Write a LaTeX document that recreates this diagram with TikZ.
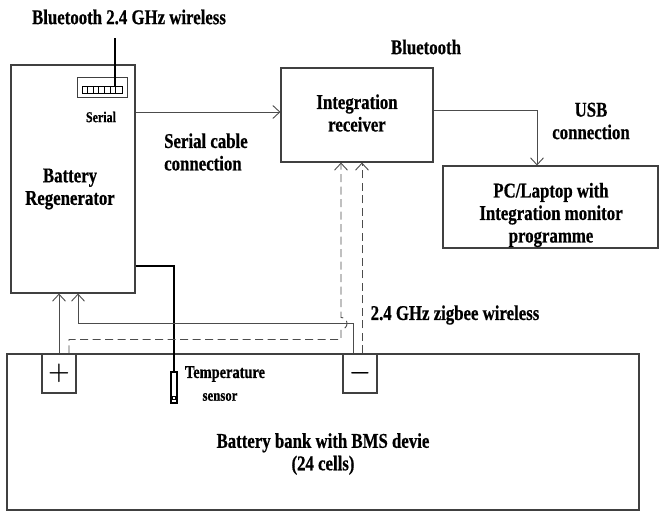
\documentclass[tikz,border=0pt]{standalone}
\usepackage{fontspec}
\setmainfont{Liberation Serif}[FakeStretch=0.8, BoldFeatures={FakeBold=0.6}]
\usetikzlibrary{arrows.meta,positioning}

\begin{document}
\begin{tikzpicture}[x=1pt, y=-1pt, >={Straight Barb[length=7pt,width=13pt]},
  box/.style={draw=black!75, line width=1.1pt, inner sep=0pt},
  lbl/.style={font=\fontsize{21}{22.5}\selectfont\bfseries, align=center, inner sep=0pt},
  small/.style={font=\fontsize{15}{16}\selectfont\bfseries, inner sep=0pt},
  wire/.style={draw=black!70, line width=0.9pt},
  thickwire/.style={draw=black, line width=2.2pt},
  radio/.style={wire, dash pattern=on 8pt off 4.5pt}
]
\useasboundingbox (0,0) rectangle (661,512);

% blocks
\node[box, minimum width=124pt, minimum height=228pt] (regen) at (73,179) {};
\node[box, minimum width=152pt, minimum height=94pt] (recv) at (357,115) {};
\node[box, minimum width=215pt, minimum height=82pt] (pc) at (550.5,207) {};
\node[box, minimum width=632pt, minimum height=156pt] (bank) at (323,432) {};
\node[box, minimum width=34pt, minimum height=39pt] (plus) at (59,373.5) {};
\node[box, minimum width=34pt, minimum height=39pt] (minus) at (360,373.5) {};

% serial port with its antenna
\node[box, line width=0.9pt, minimum width=50pt, minimum height=20pt] (port) at (102,87) {};
\node[draw, line width=0.8pt, minimum width=40pt, minimum height=7pt, inner sep=0pt] (pins) at (102,89.5) {};
\foreach \k in {1,...,6}
  \draw[line width=0.7pt] ([xshift=\k*5.7pt]pins.south west) -- ([xshift=\k*5.7pt]pins.north west);
\coordinate (ant) at (115,38);
\draw[thickwire] (ant) -- (ant |- pins.north);

% temperature sensor
\node[draw, line width=1.6pt, minimum width=6pt, minimum height=31pt, inner sep=0pt] (sensor) at (174,387.5) {};
\node[draw, line width=0.8pt, minimum size=3pt, inner sep=0pt] (probe) at (174,398) {};

% texts
\node[lbl] (regentext) at (70,189) {Battery\\Regenerator};
\node[lbl] (recvtext) at (357,113) {Integration\\receiver};
\node[lbl] (pctext) at (551,215) {PC/Laptop with\\Integration monitor\\programme};
\node[lbl] (banktext) at (323,454) {Battery bank with BMS devie\\(24 cells)};
\node[lbl] (btwireless) at (129,17) {Bluetooth 2.4 GHz wireless};
\node[lbl] (bt) at (426,47) {Bluetooth};
\node[lbl, align=left, anchor=west] (serialcable) at (164,152) {Serial cable\\connection};
\node[lbl] (usb) at (591,121) {USB\\connection};
\node[lbl] (zigbee) at (455,315) {2.4 GHz zigbee wireless};
\node[small] (serial) at (101,117) {Serial};
\node[lbl, font=\fontsize{18}{19}\selectfont\bfseries] (temp) at (225,374) {Temperature};
\node[small, font=\fontsize{16}{17}\selectfont\bfseries] (sensortext) at (220,397) {sensor};
\node[font=\fontsize{24}{24}\selectfont\boldmath] (plussign) at (plus) {$+$};
\node[font=\fontsize{24}{24}\selectfont\boldmath] (minussign) at (minus) {$-$};

% connections
\draw[wire, ->] ([yshift=67pt]regen.east) -- ([yshift=3pt]recv.west);
\draw[wire, ->] ([yshift=5pt]recv.east) -| ([xshift=-13.5pt]pc.north);
\draw[thickwire] ([yshift=-87pt]regen.east) -| (sensor.north);
\draw[wire, ->] (plus.north) -- (plus.north |- regen.south);
\draw[wire, ->] ([xshift=-7pt]minus.north) -- ++(0,-30) -| ([xshift=5pt]regen.south);
\draw[radio, ->] ([xshift=2pt]minus.north) -- ([xshift=5pt]recv.south);
\draw[radio, ->] ([xshift=10pt]plus.north) -- ++(0,-14) -- ++(272,0) -- ++(0,-10)
  arc[start angle=-90, end angle=90, radius=6pt] -- ([xshift=-16pt]recv.south);
\end{tikzpicture}
\end{document}
